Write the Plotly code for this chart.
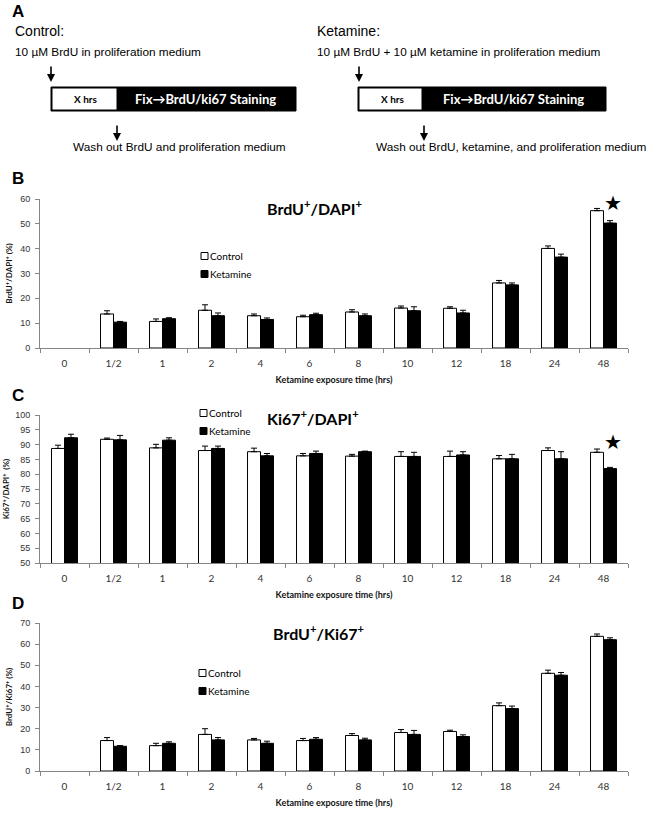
import plotly.graph_objects as go

W, H = 649, 813

categories = ["0", "1/2", "1", "2", "4", "6", "8", "10", "12", "18", "24", "48"]

# Panel B: BrdU+/DAPI+
b_control = [None, 13.7, 10.7, 15.2, 13.0, 12.6, 14.5, 16.1, 16.0, 26.2, 40.1, 55.3]
b_control_err = [None, 1.3, 1.0, 2.2, 0.7, 0.6, 0.9, 0.8, 0.6, 1.0, 1.0, 0.9]
b_ketamine = [None, 10.4, 11.8, 13.0, 11.5, 13.4, 13.0, 15.0, 14.1, 25.4, 36.6, 50.3]
b_ketamine_err = [None, 0.3, 0.4, 1.1, 0.6, 0.6, 0.7, 1.6, 1.1, 0.8, 1.2, 1.0]

# Panel C: Ki67+/DAPI+
c_control = [88.7, 91.8, 88.9, 88.0, 87.6, 86.2, 86.1, 86.0, 86.0, 85.2, 88.0, 87.4]
c_control_err = [1.1, 0.4, 1.2, 1.5, 1.2, 0.8, 0.6, 1.6, 1.8, 1.1, 0.9, 1.1]
c_ketamine = [92.3, 91.6, 91.5, 88.7, 86.2, 87.0, 87.6, 86.0, 86.5, 85.2, 85.2, 81.9]
c_ketamine_err = [1.2, 1.5, 0.8, 0.8, 0.8, 0.8, 0.2, 1.4, 1.1, 1.5, 2.4, 0.4]

# Panel D: BrdU+/Ki67+
d_control = [None, 14.4, 12.0, 17.3, 14.7, 14.4, 16.8, 18.2, 18.7, 30.9, 46.2, 63.7]
d_control_err = [None, 1.4, 1.1, 2.7, 0.7, 1.0, 0.9, 1.4, 0.6, 1.3, 1.5, 1.1]
d_ketamine = [None, 11.7, 13.1, 14.7, 13.1, 15.0, 14.7, 17.3, 16.3, 29.5, 45.3, 62.1]
d_ketamine_err = [None, 0.3, 0.7, 1.1, 1.0, 0.8, 0.8, 1.9, 0.8, 1.2, 1.3, 0.9]

panels = [
    ("x", "y", b_control, b_control_err, b_ketamine, b_ketamine_err),
    ("x2", "y2", c_control, c_control_err, c_ketamine, c_ketamine_err),
    ("x3", "y3", d_control, d_control_err, d_ketamine, d_ketamine_err),
]

def X(px):
    return px / W

def Y(py):
    return 1 - py / H

fig = go.Figure()
for xa, ya, ctl, ctl_e, ket, ket_e in panels:
    fig.add_trace(go.Bar(
        x=categories, y=ctl, xaxis=xa, yaxis=ya, name="Control",
        marker=dict(color="white", line=dict(color="black", width=1)),
        error_y=dict(type="data", symmetric=False, array=ctl_e,
                     arrayminus=[0] * len(ctl), color="black", thickness=1, width=3),
        showlegend=False))
    fig.add_trace(go.Bar(
        x=categories, y=ket, xaxis=xa, yaxis=ya, name="Ketamine",
        marker=dict(color="black", line=dict(color="black", width=1)),
        error_y=dict(type="data", symmetric=False, array=ket_e,
                     arrayminus=[0] * len(ket), color="black", thickness=1, width=3),
        showlegend=False))

AX_GRAY = "#868686"
TICK_FONT_X = dict(family="Lato", size=10, color="#333")
TICK_FONT_Y = dict(family="Liberation Sans", size=9, color="#333")

# panel geometry in pixels: (top_px, bottom_px, ymin, ymax, dtick)
geo = [(199, 348, 0, 60, 10), (415, 563, 50, 100, 5), (623, 771, 0, 70, 10)]
ytitles = ["<b>BrdU<sup>+</sup>/DAPI<sup>+</sup> (%)</b>",
           "<b>Ki67<sup>+</sup>/DAPI<sup>+</sup>  (%)</b>",
           "<b>BrdU<sup>+</sup>/Ki67<sup>+</sup> (%)</b>"]
layout_axes = {}
for i, (top, bot, y0, y1, dt) in enumerate(geo):
    sx = "" if i == 0 else str(i + 1)
    layout_axes["xaxis" + sx] = dict(
        domain=[X(40), X(628)], anchor="y" + sx, type="category",
        range=[-0.5, len(categories) - 0.5], tickangle=0,
        tickson="boundaries", ticks="outside", ticklen=4, tickcolor=AX_GRAY,
        ticklabelstandoff=6,
        showline=True, linecolor=AX_GRAY, linewidth=1, showgrid=False,
        tickfont=TICK_FONT_X, automargin=False, fixedrange=True,
        title=dict(text="<b>Ketamine exposure time (hrs)</b>",
                   font=dict(family="Lato", size=9, color="#111"), standoff=8))
    layout_axes["yaxis" + sx] = dict(
        domain=[Y(bot), Y(top)], anchor="x" + sx, range=[y0, y1], dtick=dt,
        ticks="outside", ticklen=4, tickcolor=AX_GRAY, ticklabelstandoff=3,
        showline=True, linecolor=AX_GRAY, linewidth=1, showgrid=False,
        zeroline=False, tickfont=TICK_FONT_Y, automargin=False, fixedrange=True,
        title=dict(text=ytitles[i], font=dict(family="Lato", size=8, color="#111"),
                   standoff=6))

fig.update_layout(
    width=W, height=H, margin=dict(l=0, r=0, t=0, b=0),
    paper_bgcolor="white", plot_bgcolor="white",
    barmode="group", bargap=0.47, bargroupgap=0,
    **layout_axes)

ann = []
shapes = []

def text(px, py, s, size, family="Liberation Sans", color="black", xanchor="left", bold=False):
    ann.append(dict(x=X(px), y=Y(py), xref="paper", yref="paper", text=("<b>%s</b>" % s) if bold else s,
                    showarrow=False, xanchor=xanchor, yanchor="middle",
                    font=dict(family=family, size=size, color=color)))

def arrow(px, py_top, py_tip):
    ann.append(dict(x=X(px), y=Y(py_tip), xref="paper", yref="paper", text="",
                    showarrow=True, arrowhead=2, arrowsize=1, arrowwidth=1.6,
                    arrowcolor="black", ax=0, ay=-(py_tip - py_top)))

# Panel letters
text(10, 11, "A", 17, bold=True)
text(10, 178, "B", 17, bold=True)
text(10, 395, "C", 17, bold=True)
text(10, 603, "D", 17, bold=True)

# Panel A diagram
text(13, 31, "Control:", 14)
text(13, 52, "10 \u00b5M BrdU in proliferation medium", 11.8)
text(315, 31, "Ketamine:", 14)
text(315, 52, "10 \u00b5M BrdU + 10 \u00b5M ketamine in proliferation medium", 11.8)
for (l, m, r, fixc, xc) in [(51, 117, 296, 206, 85), (358, 422, 606, 513, 392)]:
    shapes.append(dict(type="rect", xref="paper", yref="paper", x0=X(l), x1=X(r),
                       y0=Y(111), y1=Y(87), fillcolor="black", line=dict(color="black", width=1)))
    shapes.append(dict(type="rect", xref="paper", yref="paper", x0=X(l + 1), x1=X(m),
                       y0=Y(110), y1=Y(88), fillcolor="white", line=dict(color="black", width=1)))
    text(xc, 99, "X hrs", 10, family="Lato", xanchor="center", bold=True)
    text(fixc, 99, "Fix\u2192BrdU/ki67 Staining", 13, family="Lato", color="white",
         xanchor="center", bold=True)
arrow(51, 65, 82)
arrow(117, 124, 141)
arrow(359, 65, 82)
arrow(424, 124, 141)
text(179, 147, "Wash out BrdU and proliferation medium", 11.8, xanchor="center")
text(511, 147, "Wash out BrdU, ketamine, and proliferation medium", 11.8, xanchor="center")

# chart titles
text(314, 207, "BrdU<sup>+</sup>/DAPI<sup>+</sup>", 16, family="Lato", xanchor="center", bold=True)
text(313, 417, "Ki67<sup>+</sup>/DAPI<sup>+</sup>", 16, family="Lato", xanchor="center", bold=True)
text(318, 632, "BrdU<sup>+</sup>/Ki67<sup>+</sup>", 16, family="Lato", xanchor="center", bold=True)

# legends
for (sx, ya, yb) in [(201, 256, 274), (200, 413, 431), (199, 673, 691)]:
    shapes.append(dict(type="rect", xref="paper", yref="paper", x0=X(sx), x1=X(sx + 7),
                       y0=Y(ya + 3.5), y1=Y(ya - 3.5), fillcolor="white", line=dict(color="black", width=1)))
    shapes.append(dict(type="rect", xref="paper", yref="paper", x0=X(sx), x1=X(sx + 7),
                       y0=Y(yb + 3.5), y1=Y(yb - 3.5), fillcolor="black", line=dict(color="black", width=1)))
    text(sx + 7, ya, "Control", 10, family="Lato")
    text(sx + 7, yb, "Ketamine", 10, family="Lato")

# significance stars (placed at the "48" category)
star_idx = categories.index("48")
ann.append(dict(x=star_idx, y=58.6, xref="x", yref="y", text="\u2605", showarrow=False,
                xshift=9, font=dict(size=20, color="black")))
ann.append(dict(x=star_idx, y=91.2, xref="x2", yref="y2", text="\u2605", showarrow=False,
                xshift=9, font=dict(size=20, color="black")))

fig.update_layout(annotations=ann, shapes=shapes)
fig.write_html("out.html", post_script="document.body.style.margin='0';",
               config={"displayModeBar": False})
